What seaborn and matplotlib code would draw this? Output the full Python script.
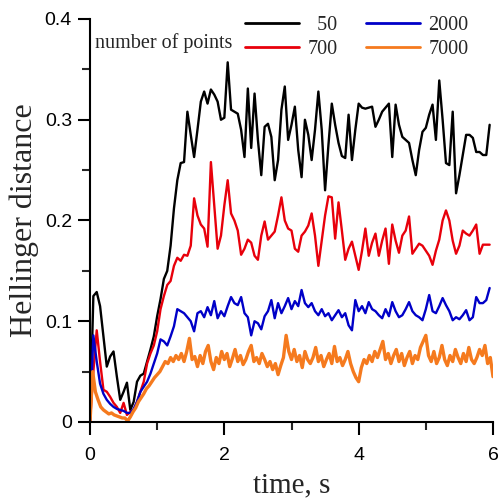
import matplotlib
matplotlib.use("Agg")
import matplotlib.pyplot as plt
import numpy as np
import pandas as pd
import seaborn as sns

# sampling step of the curves, s
dt_coarse = 0.05
dt_fine = 0.04

labels = ["50", "700", "2000", "7000"]

h_50 = [
    0.000, 0.125, 0.129, 0.115, 0.085, 0.055, 0.065, 0.070, 0.045, 0.022,
    0.030, 0.039, 0.012, 0.020, 0.040, 0.046, 0.048, 0.060, 0.072, 0.085,
    0.105, 0.122, 0.142, 0.150, 0.175, 0.212, 0.240, 0.257, 0.258, 0.308,
    0.285, 0.263, 0.290, 0.318, 0.328, 0.316, 0.330, 0.325, 0.318, 0.300,
    0.302, 0.357, 0.310, 0.308, 0.306, 0.290, 0.263, 0.331, 0.272, 0.326,
    0.280, 0.245, 0.293, 0.296, 0.283, 0.240, 0.260, 0.310, 0.333, 0.280,
    0.295, 0.313, 0.270, 0.243, 0.300, 0.285, 0.260, 0.290, 0.328, 0.290,
    0.230, 0.275, 0.316, 0.295, 0.277, 0.264, 0.262, 0.305, 0.260, 0.290,
    0.316, 0.312, 0.311, 0.312, 0.313, 0.293, 0.300, 0.308, 0.312, 0.316,
    0.263, 0.315, 0.295, 0.283, 0.280, 0.277, 0.260, 0.245, 0.270, 0.288,
    0.292, 0.305, 0.315, 0.280, 0.339, 0.300, 0.257, 0.255, 0.308, 0.227,
    0.245, 0.265, 0.285, 0.285, 0.282, 0.268, 0.268, 0.265, 0.265, 0.295,
]

h_700 = [
    0.000, 0.050, 0.091, 0.060, 0.032, 0.030, 0.025, 0.019, 0.015, 0.009,
    0.019, 0.007, 0.010, 0.012, 0.020, 0.030, 0.040, 0.058, 0.068, 0.076,
    0.090, 0.112, 0.125, 0.136, 0.140, 0.155, 0.163, 0.160, 0.166, 0.165,
    0.175, 0.222, 0.205, 0.196, 0.192, 0.174, 0.258, 0.215, 0.172, 0.185,
    0.215, 0.240, 0.207, 0.200, 0.190, 0.166, 0.172, 0.181, 0.178, 0.165,
    0.161, 0.185, 0.199, 0.181, 0.185, 0.189, 0.205, 0.223, 0.200, 0.192,
    0.190, 0.172, 0.169, 0.185, 0.189, 0.195, 0.207, 0.185, 0.155, 0.180,
    0.205, 0.224, 0.223, 0.182, 0.218, 0.190, 0.161, 0.172, 0.179, 0.165,
    0.151, 0.170, 0.192, 0.165, 0.178, 0.187, 0.165, 0.180, 0.192, 0.157,
    0.196, 0.180, 0.168, 0.185, 0.190, 0.204, 0.167, 0.172, 0.177, 0.175,
    0.170, 0.165, 0.156, 0.170, 0.181, 0.200, 0.210, 0.200, 0.180, 0.167,
    0.175, 0.190, 0.187, 0.185, 0.190, 0.196, 0.167, 0.176, 0.176, 0.176,
]

h_2000 = [
    0.000, 0.086, 0.060, 0.038, 0.028, 0.022, 0.018, 0.015, 0.013, 0.012,
    0.011, 0.009, 0.009, 0.013, 0.020, 0.030, 0.035, 0.040, 0.048, 0.058,
    0.068, 0.082, 0.080, 0.076, 0.085, 0.095, 0.112, 0.110, 0.108, 0.104,
    0.100, 0.090, 0.108, 0.110, 0.104, 0.114, 0.106, 0.120, 0.103, 0.110,
    0.105, 0.115, 0.124, 0.118, 0.116, 0.124, 0.108, 0.104, 0.086, 0.100,
    0.098, 0.092, 0.105, 0.110, 0.121, 0.103, 0.118, 0.108, 0.115, 0.123,
    0.112, 0.120, 0.115, 0.131, 0.118, 0.114, 0.118, 0.110, 0.106, 0.112,
    0.105, 0.108, 0.101, 0.106, 0.111, 0.104, 0.108, 0.096, 0.091, 0.121,
    0.110, 0.115, 0.108, 0.119, 0.112, 0.110, 0.106, 0.103, 0.112, 0.105,
    0.119, 0.110, 0.104, 0.106, 0.112, 0.119, 0.110, 0.106, 0.104, 0.101,
    0.112, 0.126, 0.110, 0.108, 0.115, 0.123, 0.116, 0.110, 0.101, 0.104,
    0.102, 0.106, 0.111, 0.101, 0.104, 0.124, 0.118, 0.118, 0.121, 0.133,
]

h_7000 = [
    0.000, 0.050, 0.030, 0.022, 0.015, 0.012, 0.010, 0.008, 0.009, 0.007,
    0.006, 0.005, 0.004, 0.004, 0.001, 0.005, 0.010, 0.014, 0.020, 0.024,
    0.028, 0.033, 0.036, 0.040, 0.044, 0.047, 0.050, 0.055, 0.060, 0.058,
    0.064, 0.060, 0.066, 0.062, 0.068, 0.060, 0.070, 0.083, 0.062, 0.065,
    0.055, 0.066, 0.058, 0.070, 0.076, 0.060, 0.052, 0.064, 0.058, 0.070,
    0.062, 0.068, 0.055, 0.063, 0.072, 0.060, 0.066, 0.057, 0.062, 0.070,
    0.076, 0.060, 0.064, 0.058, 0.068, 0.062, 0.055, 0.060, 0.052, 0.058,
    0.047, 0.056, 0.064, 0.086, 0.070, 0.062, 0.072, 0.060, 0.066, 0.054,
    0.070, 0.062, 0.058, 0.064, 0.074, 0.060, 0.066, 0.055, 0.062, 0.068,
    0.058, 0.075, 0.060, 0.064, 0.056, 0.062, 0.070, 0.058, 0.050, 0.044,
    0.040, 0.054, 0.062, 0.058, 0.066, 0.060, 0.070, 0.064, 0.072, 0.080,
    0.062, 0.068, 0.058, 0.066, 0.072, 0.060, 0.068, 0.056, 0.064, 0.070,
    0.058, 0.066, 0.062, 0.074, 0.080, 0.086, 0.066, 0.060, 0.070, 0.058,
    0.064, 0.076, 0.062, 0.056, 0.066, 0.060, 0.072, 0.064, 0.058, 0.068,
    0.060, 0.074, 0.062, 0.058, 0.064, 0.072, 0.066, 0.076, 0.058, 0.064,
    0.045,
]

colors = {"50": "#000000", "700": "#e8000b", "2000": "#0000c8", "7000": "#f57a1e"}
widths = {"50": 1.7, "700": 1.7, "2000": 1.7, "7000": 2.4}

series = [(labels[0], h_50, dt_coarse), (labels[1], h_700, dt_coarse),
          (labels[2], h_2000, dt_coarse), (labels[3], h_7000, dt_fine)]

df = pd.concat(
    [pd.DataFrame({"time": np.arange(len(v)) * dt, "dist": v, "points": name})
     for name, v, dt in series],
    ignore_index=True,
)

sns.set_style("ticks")
plt.rcParams["font.family"] = ["Liberation Sans", "DejaVu Sans"]
serif = ["Liberation Serif", "DejaVu Serif"]

fig = plt.figure(figsize=(4.99, 5.0), dpi=100)
ax = fig.add_axes([90 / 499, 1 - 422 / 500, 403 / 499, 403 / 500])

for name in labels:
    sns.lineplot(data=df[df["points"] == name], x="time", y="dist",
                 color=colors[name], estimator=None, sort=False,
                 linewidth=widths[name], legend=False, ax=ax)

ax.set_xlim(0, 6)
ax.set_ylim(0, 0.4)
ax.set_xticks([0, 2, 4, 6])
ax.set_xticks([1, 3, 5], minor=True)
ax.set_yticks([0, 0.1, 0.2, 0.3, 0.4])
ax.set_yticklabels(["0", "0.1", "0.2", "0.3", "0.4"])
ax.set_yticks([0.05, 0.15, 0.25, 0.35], minor=True)
ax.tick_params(which="major", direction="out", length=9, width=1.5,
               labelsize=14, colors="black")
ax.tick_params(which="minor", direction="out", length=5.5, width=1.5)
ax.tick_params(axis="x", pad=9)
ax.tick_params(axis="y", pad=4)
for side in ["left", "bottom"]:
    ax.spines[side].set_linewidth(1.5)
    ax.spines[side].set_color("black")
sns.despine(ax=ax)

ax.set_xlabel("time, s", family=serif, fontsize=21, labelpad=6)
ax.set_ylabel("Hellinger distance", family=serif, fontsize=23, labelpad=4)

handles = [plt.Line2D([0], [0], color=colors[k], linewidth=2) for k in labels]
fsp = "\u2007"
leg_labels = [fsp + "50", "700", "2000", "7000"]
leg = fig.legend(handles, leg_labels, ncol=2, loc="upper left",
                 bbox_to_anchor=(245 / 499, 1 - 16 / 500), frameon=False,
                 prop={"family": serif, "size": 14.5}, handlelength=2.7,
                 handletextpad=0.4, columnspacing=1.4, labelspacing=0.25,
                 borderpad=0, borderaxespad=0)
fig.text(95 / 499, 1 - 43 / 500, "number of points", family=serif,
         fontsize=14.5, va="center", ha="left")

fig.savefig("out.png", dpi=100)
